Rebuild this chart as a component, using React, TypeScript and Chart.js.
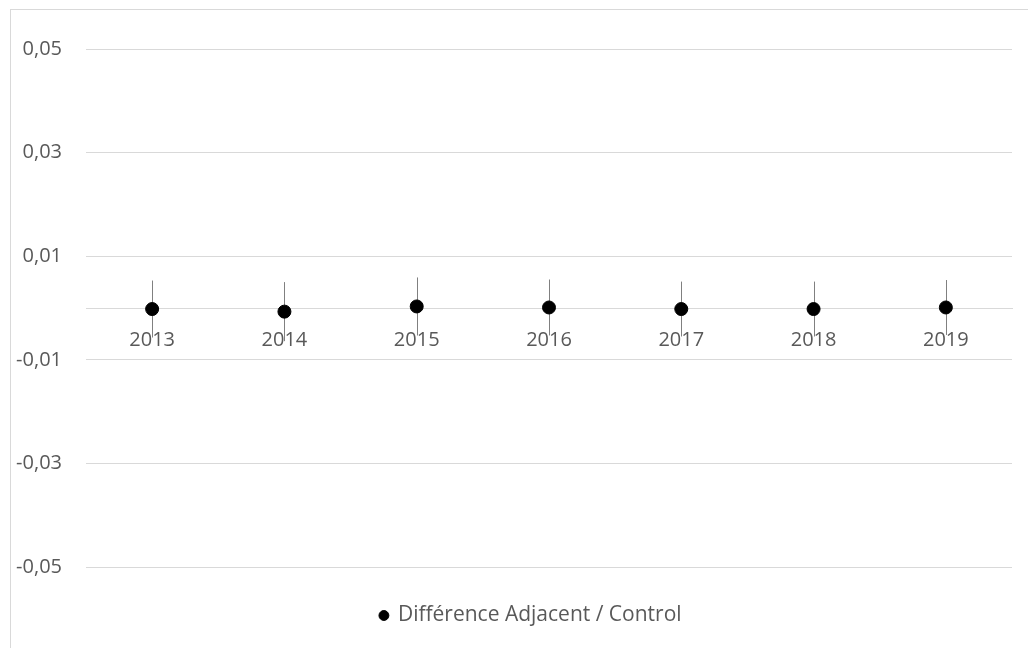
import React, { useEffect, useRef } from "react";
import { Chart, registerables } from "chart.js";

Chart.register(...registerables);

const years = ["2013", "2014", "2015", "2016", "2017", "2018", "2019"];
const values = [-0.0002, -0.0007, 0.0003, 0.0001, -0.0002, -0.0002, 0.0001];
const errors = [0.0055, 0.0057, 0.0056, 0.0054, 0.0053, 0.0053, 0.0053];
const yTicks = [-0.05, -0.03, -0.01, 0.01, 0.03, 0.05];
const seriesName = "Différence Adjacent / Control";

const FONT = "'Open Sans', sans-serif";
const TEXT = "#595959";
const GRID = "#d9d9d9";

const errorBars = {
  id: "errorBars",
  beforeDatasetsDraw(chart: any) {
    const ctx = chart.ctx;
    const xs = chart.scales.x;
    const ys = chart.scales.y;
    ctx.save();
    ctx.strokeStyle = "#808080";
    ctx.lineWidth = 1;
    values.forEach((v, i) => {
      const x = Math.round(xs.getPixelForValue(i)) + 0.5;
      ctx.beginPath();
      ctx.moveTo(x, ys.getPixelForValue(v + errors[i]));
      ctx.lineTo(x, ys.getPixelForValue(v - errors[i]));
      ctx.stroke();
    });
    ctx.restore();
  },
};

export default function App() {
  const ref = useRef<HTMLCanvasElement | null>(null);
  useEffect(() => {
    if (!ref.current) return;
    const chart = new Chart(ref.current, {
      type: "line",
      data: {
        labels: years,
        datasets: [
          {
            label: seriesName,
            data: values,
            yAxisID: "y",
            showLine: false,
            pointRadius: 6.5,
            pointHoverRadius: 6.5,
            backgroundColor: "#000000",
            borderColor: "#000000",
            pointStyle: "circle",
          },
        ],
      },
      options: {
        animation: false,
        responsive: false,
        maintainAspectRatio: false,
        layout: { padding: { top: 49, right: 16, left: 0, bottom: 12 } },
        plugins: {
          tooltip: { enabled: false },
          legend: {
            position: "bottom",
            labels: {
              usePointStyle: true,
              pointStyle: "circle",
              boxWidth: 7,
              boxHeight: 7,
              color: TEXT,
              font: { family: FONT, size: 21 },
              padding: 38,
            },
          },
        },
        scales: {
          x: {
            type: "category",
            position: { y: 0 } as any,
            offset: true,
            grid: { display: false, drawTicks: false },
            border: { display: true, color: GRID, width: 1 },
            ticks: { color: TEXT, font: { family: FONT, size: 20 }, padding: 20 },
          },
          y: {
            position: "left",
            min: -0.05,
            max: 0.05,
            afterBuildTicks: (scale: any) => {
              scale.ticks = yTicks.map((v) => ({ value: v }));
            },
            afterFit: (scale: any) => {
              scale.width = 86;
            },
            grid: { color: GRID, lineWidth: 1, drawTicks: false },
            border: { display: false },
            ticks: {
              color: TEXT,
              font: { family: FONT, size: 20 },
              padding: 24,
              callback: (v: any) => Number(v).toFixed(2).replace(".", ","),
            },
          },
          spacer: {
            type: "linear",
            position: "right",
            min: -0.05,
            max: 0.05,
            grid: { display: false, drawTicks: false },
            border: { display: false },
            ticks: { display: false },
            afterFit: (scale: any) => {
              scale.width = 50;
            },
          },
        },
      },
      plugins: [errorBars],
    });
    return () => chart.destroy();
  }, []);
  return (
    <div style={{ position: "fixed", left: 0, top: 0, width: 1028, height: 648, background: "#fff", overflow: "hidden" }}>
      <canvas ref={ref} width={1078} height={648} style={{ display: "block" }} />
      <div
        style={{
          position: "absolute",
          left: 10,
          top: 9,
          width: 1040,
          height: 660,
          border: `1px solid ${GRID}`,
          pointerEvents: "none",
        }}
      />
    </div>
  );
}
